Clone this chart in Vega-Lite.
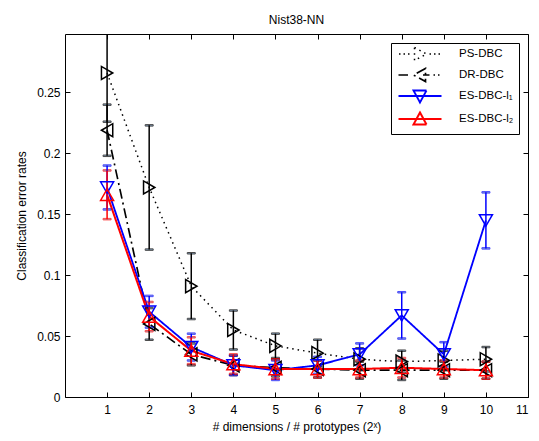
{
  "$schema": "https://vega.github.io/schema/vega-lite/v6.json",
  "width": 463,
  "height": 363,
  "autosize": {"type": "none"},
  "padding": {"left": 65, "top": 34, "right": 11, "bottom": 44},
  "background": "white",
  "title": {"text": "Nist38-NN", "font": "Liberation Sans", "fontSize": 12, "fontWeight": "normal", "color": "black", "offset": 7},
  "config": {
    "view": {"stroke": "black", "strokeWidth": 1},
    "axis": {
      "grid": false,
      "domain": false,
      "tickColor": "black",
      "tickSize": -5,
      "tickWidth": 1,
      "labelFont": "Liberation Sans",
      "labelFontSize": 12,
      "labelColor": "black",
      "titleFont": "Liberation Sans",
      "titleFontSize": 12,
      "titleFontWeight": "normal",
      "titleColor": "black"
    }
  },
  "data": {
    "values": [
      {"x": 1, "series": "PS-DBC", "value": 0.266, "err": 0.040},
      {"x": 2, "series": "PS-DBC", "value": 0.172, "err": 0.051},
      {"x": 3, "series": "PS-DBC", "value": 0.091, "err": 0.027},
      {"x": 4, "series": "PS-DBC", "value": 0.055, "err": 0.016},
      {"x": 5, "series": "PS-DBC", "value": 0.042, "err": 0.010},
      {"x": 6, "series": "PS-DBC", "value": 0.036, "err": 0.011},
      {"x": 7, "series": "PS-DBC", "value": 0.031, "err": 0.009},
      {"x": 8, "series": "PS-DBC", "value": 0.029, "err": 0.009},
      {"x": 9, "series": "PS-DBC", "value": 0.030, "err": 0.008},
      {"x": 10, "series": "PS-DBC", "value": 0.031, "err": 0.010},
      {"x": 1, "series": "DR-DBC", "value": 0.219, "err": 0.021},
      {"x": 2, "series": "DR-DBC", "value": 0.060, "err": 0.013},
      {"x": 3, "series": "DR-DBC", "value": 0.035, "err": 0.009},
      {"x": 4, "series": "DR-DBC", "value": 0.026, "err": 0.008},
      {"x": 5, "series": "DR-DBC", "value": 0.024, "err": 0.007},
      {"x": 6, "series": "DR-DBC", "value": 0.023, "err": 0.007},
      {"x": 7, "series": "DR-DBC", "value": 0.022, "err": 0.007},
      {"x": 8, "series": "DR-DBC", "value": 0.022, "err": 0.008},
      {"x": 9, "series": "DR-DBC", "value": 0.022, "err": 0.007},
      {"x": 10, "series": "DR-DBC", "value": 0.022, "err": 0.007},
      {"x": 1, "series": "ES-DBC-l₁", "value": 0.172, "err": 0.018},
      {"x": 2, "series": "ES-DBC-l₁", "value": 0.070, "err": 0.013},
      {"x": 3, "series": "ES-DBC-l₁", "value": 0.041, "err": 0.011},
      {"x": 4, "series": "ES-DBC-l₁", "value": 0.026, "err": 0.008},
      {"x": 5, "series": "ES-DBC-l₁", "value": 0.022, "err": 0.008},
      {"x": 6, "series": "ES-DBC-l₁", "value": 0.026, "err": 0.007},
      {"x": 7, "series": "ES-DBC-l₁", "value": 0.035, "err": 0.009},
      {"x": 8, "series": "ES-DBC-l₁", "value": 0.067, "err": 0.019},
      {"x": 9, "series": "ES-DBC-l₁", "value": 0.035, "err": 0.010},
      {"x": 10, "series": "ES-DBC-l₁", "value": 0.145, "err": 0.023},
      {"x": 1, "series": "ES-DBC-l₂", "value": 0.166, "err": 0.020},
      {"x": 2, "series": "ES-DBC-l₂", "value": 0.066, "err": 0.012},
      {"x": 3, "series": "ES-DBC-l₂", "value": 0.038, "err": 0.011},
      {"x": 4, "series": "ES-DBC-l₂", "value": 0.027, "err": 0.008},
      {"x": 5, "series": "ES-DBC-l₂", "value": 0.023, "err": 0.008},
      {"x": 6, "series": "ES-DBC-l₂", "value": 0.023, "err": 0.007},
      {"x": 7, "series": "ES-DBC-l₂", "value": 0.023, "err": 0.007},
      {"x": 8, "series": "ES-DBC-l₂", "value": 0.024, "err": 0.008},
      {"x": 9, "series": "ES-DBC-l₂", "value": 0.023, "err": 0.007},
      {"x": 10, "series": "ES-DBC-l₂", "value": 0.022, "err": 0.007}
    ]
  },
  "resolve": {"axis": {"x": "independent", "y": "independent"}},
  "layer": [
    {
      "description": "Legend-only layer: no rows pass the filter, the shape scale carries line-and-marker glyphs",
      "transform": [{"filter": "datum.x > 100"}],
      "mark": {"type": "point", "filled": false, "strokeWidth": 1.5},
      "encoding": {
        "x": {"field": "x", "type": "quantitative", "axis": null, "scale": {"domain": [0, 11], "nice": false}},
        "y": {"field": "value", "type": "quantitative", "axis": null, "scale": {"domain": [0, 0.298], "nice": false, "zero": false}},
        "color": {
          "field": "series", "type": "nominal",
          "scale": {"domain": ["PS-DBC", "DR-DBC", "ES-DBC-l₁", "ES-DBC-l₂"], "range": ["#000000", "#000000", "#0000ff", "#ff0000"]},
          "legend": {
            "title": null,
            "orient": "top-right",
            "offset": 9,
            "strokeColor": "black",
            "fillColor": "white",
            "padding": 5,
            "labelFont": "Liberation Sans",
            "labelFontSize": 11.5,
            "labelColor": "black",
            "symbolSize": 100,
            "symbolStrokeWidth": 1.5,
            "symbolFillColor": "transparent",
            "symbolOpacity": 1,
            "symbolOffset": 18,
            "labelOffset": 33,
            "rowPadding": 1
          }
        },
        "shape": {
          "field": "series", "type": "nominal",
          "scale": {
            "domain": ["PS-DBC", "DR-DBC", "ES-DBC-l₁", "ES-DBC-l₂"],
            "range": [
              "M-4.2,0h0.3M-3.3,0h0.3M-2.4,0h0.3M-1.1,-1.3L1.3,0L-1.1,1.3ZM1.9,0h0.3M2.8,0h0.3M3.7,0h0.3",
              "M-4.3,0H-2.4M1.1,-1.3L-1.3,0L1.1,1.3ZM0.6,0H1.9M2.7,0h0.3M3.6,0h0.3",
              "M-4.3,0H4.3M-1.3,-1.1L1.3,-1.1L0,1.3Z",
              "M-4.3,0H4.3M-1.3,1.1L1.3,1.1L0,-1.3Z"
            ]
          }
        }
      }
    },
    {
      "mark": {"type": "line", "clip": true},
      "encoding": {
        "x": {"field": "x", "type": "quantitative",
              "axis": {"orient": "top", "values": [1, 2, 3, 4, 5, 6, 7, 8, 9, 10, 11], "labels": false, "title": null}},
        "y": {"field": "value", "type": "quantitative",
              "axis": {"orient": "right", "values": [0, 0.05, 0.1, 0.15, 0.2, 0.25], "labels": false, "title": null}},
        "stroke": {"field": "series", "type": "nominal",
                   "scale": {"domain": ["PS-DBC", "DR-DBC", "ES-DBC-l₁", "ES-DBC-l₂"], "range": ["#000000", "#000000", "#0000ff", "#ff0000"]},
                   "legend": null},
        "strokeDash": {"field": "series", "type": "nominal",
                       "scale": {"domain": ["PS-DBC", "DR-DBC", "ES-DBC-l₁", "ES-DBC-l₂"], "range": [[1.5, 4], [10, 4, 2, 4], [1, 0], [1, 0]]},
                       "legend": null},
        "strokeWidth": {"field": "series", "type": "nominal",
                        "scale": {"domain": ["PS-DBC", "DR-DBC", "ES-DBC-l₁", "ES-DBC-l₂"], "range": [1.5, 2, 2, 2]},
                        "legend": null}
      }
    },
    {
      "mark": {"type": "errorbar", "ticks": true, "size": 8, "thickness": 1.5, "clip": true},
      "encoding": {
        "x": {"field": "x", "type": "quantitative", "axis": null},
        "y": {"field": "value", "type": "quantitative", "axis": null},
        "yError": {"field": "err"},
        "stroke": {"field": "series", "type": "nominal", "legend": null}
      }
    },
    {
      "transform": [{"filter": {"field": "series", "equal": "PS-DBC"}}],
      "mark": {"type": "point", "shape": "triangle-right", "filled": false, "size": 170, "strokeWidth": 1.5, "opacity": 1},
      "encoding": {
        "x": {"field": "x", "type": "quantitative",
              "axis": {"orient": "bottom", "values": [1, 2, 3, 4, 5, 6, 7, 8, 9, 10, 11], "labelPadding": 12,
                       "title": "# dimensions / # prototypes (2ˣ)", "titlePadding": 6}},
        "y": {"field": "value", "type": "quantitative",
              "axis": {"orient": "left", "values": [0, 0.05, 0.1, 0.15, 0.2, 0.25], "format": "~g", "labelPadding": 10,
                       "title": "Classification error rates", "titlePadding": 8}},
        "stroke": {"field": "series", "type": "nominal", "legend": null}
      }
    },
    {
      "transform": [{"filter": {"field": "series", "equal": "DR-DBC"}}],
      "mark": {"type": "point", "shape": "triangle-left", "filled": false, "size": 170, "strokeWidth": 1.5, "opacity": 1},
      "encoding": {
        "x": {"field": "x", "type": "quantitative", "axis": null},
        "y": {"field": "value", "type": "quantitative", "axis": null},
        "stroke": {"field": "series", "type": "nominal", "legend": null}
      }
    },
    {
      "transform": [{"filter": {"field": "series", "equal": "ES-DBC-l₁"}}],
      "mark": {"type": "point", "shape": "triangle-down", "filled": false, "size": 170, "strokeWidth": 1.5, "opacity": 1},
      "encoding": {
        "x": {"field": "x", "type": "quantitative", "axis": null},
        "y": {"field": "value", "type": "quantitative", "axis": null},
        "stroke": {"field": "series", "type": "nominal", "legend": null}
      }
    },
    {
      "transform": [{"filter": {"field": "series", "equal": "ES-DBC-l₂"}}],
      "mark": {"type": "point", "shape": "triangle-up", "filled": false, "size": 170, "strokeWidth": 1.5, "opacity": 1},
      "encoding": {
        "x": {"field": "x", "type": "quantitative", "axis": null},
        "y": {"field": "value", "type": "quantitative", "axis": null},
        "stroke": {"field": "series", "type": "nominal", "legend": null}
      }
    }
  ]
}
